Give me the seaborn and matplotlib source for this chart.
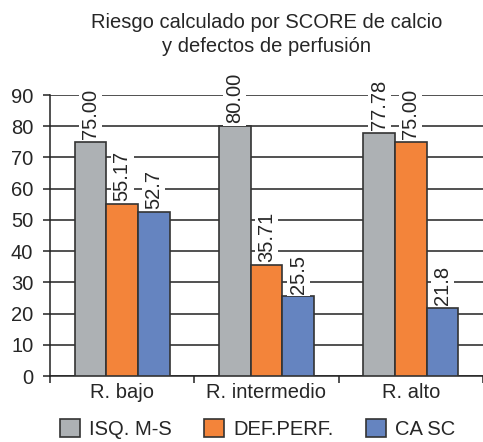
import pandas as pd
import numpy as np
import matplotlib.pyplot as plt
import seaborn as sns

# Data
categories = ['R. bajo', 'R. intermedio', 'R. alto']
series = ['ISQ. M-S', 'DEF.PERF.', 'CA SC']
isq_ms = [75.00, 80.00, 77.78]
def_perf = [55.17, 35.71, 75.00]
ca_sc = [52.7, 25.5, 21.8]
isq_labels = ['75.00', '80.00', '77.78']
def_labels = ['55.17', '35.71', '75.00']
ca_labels = ['52.7', '25.5', '21.8']
y_ticks = [0, 10, 20, 30, 40, 50, 60, 70, 80, 90]

df = pd.DataFrame({
    'cat': categories * 3,
    'serie': [series[0]] * 3 + [series[1]] * 3 + [series[2]] * 3,
    'valor': isq_ms + def_perf + ca_sc,
})
labels = [isq_labels, def_labels, ca_labels]
colors = ['#adb1b4', '#f3843a', '#6584c0']

sns.set_style('white')
plt.rcParams['font.family'] = ['Liberation Sans', 'DejaVu Sans']
fs = 14.5

fig = plt.figure(figsize=(4.83, 4.42), dpi=100)
ax = fig.add_axes([0.1035, 0.149, 0.8965, 0.636])

sns.barplot(data=df, x='cat', y='valor', hue='serie', palette=colors,
            width=0.66, edgecolor='#333333', linewidth=1.2, ax=ax, zorder=3,
            saturation=1)

for cont, lab in zip(ax.containers, labels):
    ax.bar_label(cont, labels=lab, rotation=90, padding=2, fontsize=fs,
                 bbox=dict(facecolor='white', edgecolor='none', pad=1.5),
                 zorder=4)

ax.set_ylim(0, 90)
ax.set_xlim(-0.5, 2.5)
ax.set_yticks(y_ticks)
ax.yaxis.grid(True, color='#222222', linewidth=1.1, zorder=0)
ax.set_axisbelow(True)
ax.tick_params(axis='y', labelsize=fs, length=5, width=1.1, color='#222222',
               left=True, pad=7)
ax.tick_params(axis='x', labelsize=fs, length=0, pad=5)
ax.set_xticks([-0.5, 0.5, 1.5, 2.5], minor=True)
ax.tick_params(axis='x', which='minor', length=5, width=1.1, bottom=True,
               color='#222222')
ax.set_xlabel('')
ax.set_ylabel('')
for s in ['top', 'right']:
    ax.spines[s].set_visible(False)
for s in ['left', 'bottom']:
    ax.spines[s].set_color('#222222')
    ax.spines[s].set_linewidth(1.1)

ax.legend(loc='center', bbox_to_anchor=(0.48, -0.189), ncol=3,
          frameon=False, fontsize=fs, handlelength=1.0, handleheight=1.0,
          columnspacing=1.6, handletextpad=0.45)

fig.suptitle('Riesgo calculado por SCORE de calcio\ny defectos de perfusión',
             x=0.552, y=0.97, va='top', fontsize=fs, linespacing=1.3)

fig.savefig('out.png', dpi=100)
